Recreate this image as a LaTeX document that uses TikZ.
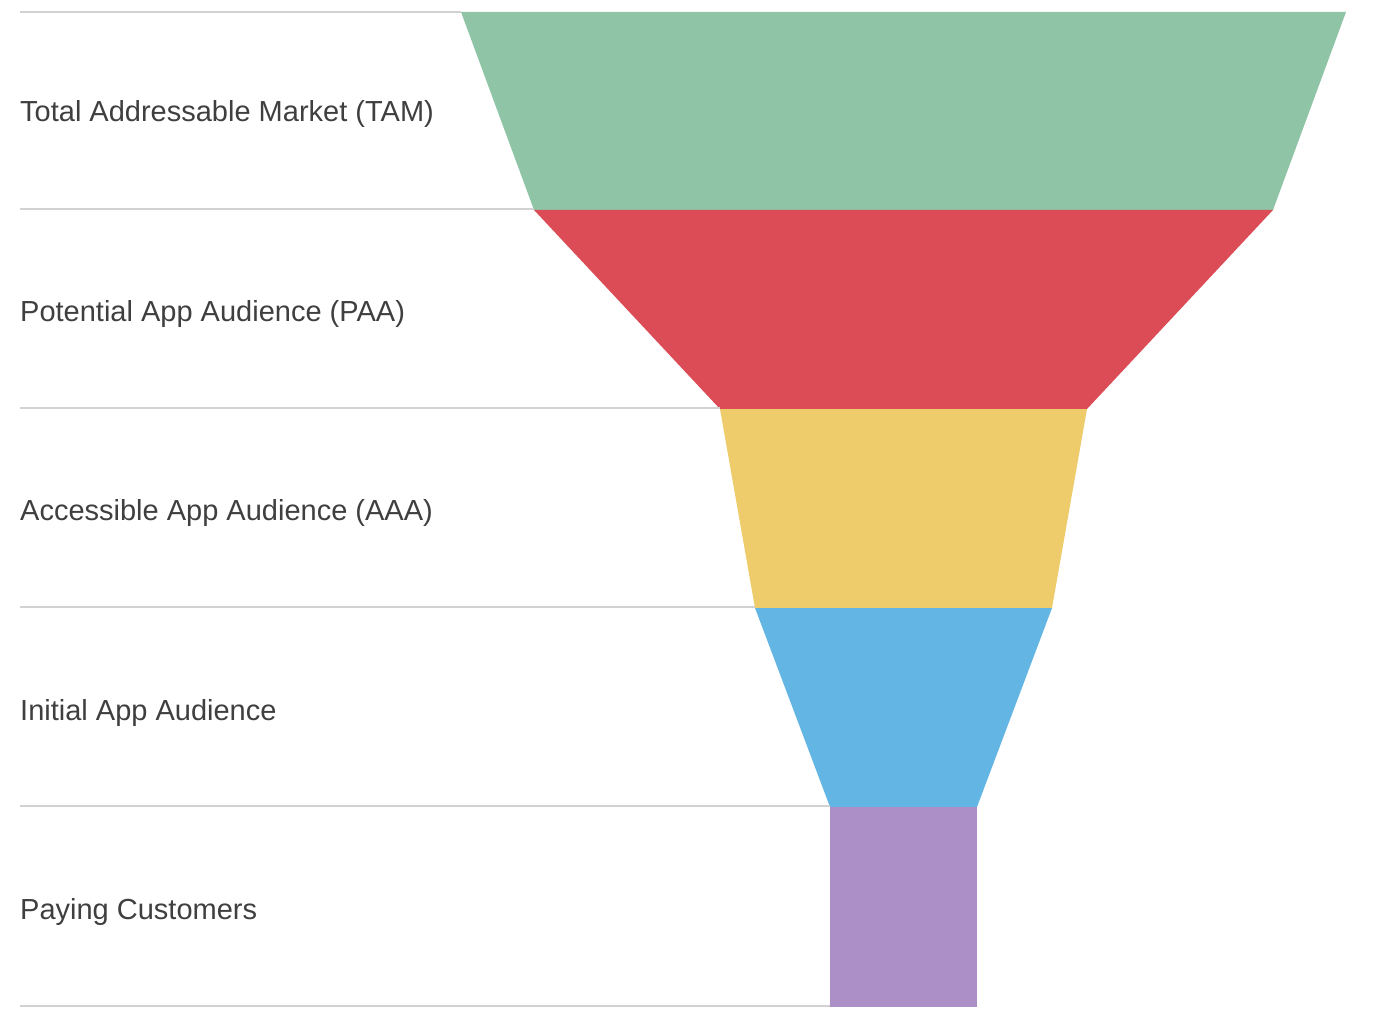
\documentclass[tikz,border=0pt]{standalone}
\usepackage{fontspec}
\setmainfont{Liberation Sans}
\definecolor{cgreen}{HTML}{8FC5A6}
\definecolor{cred}{HTML}{DB4C57}
\definecolor{cyellow}{HTML}{EECC6B}
\definecolor{cblue}{HTML}{63B6E4}
\definecolor{cpurple}{HTML}{AB8FC6}
\definecolor{cgrid}{HTML}{D2D2D2}
\definecolor{ctext}{HTML}{3F3F3F}
\begin{document}
\begin{tikzpicture}[x=1pt,y=-1pt,
  gridline/.style={draw=cgrid,line width=1.8pt},
  seglabel/.style={anchor=west,inner sep=0pt,text=ctext,draw=ctext,line width=0.35pt,font=\fontsize{29}{34}\selectfont},
  seg/.style={line width=0pt}]
\useasboundingbox (0,0) rectangle (1378,1024);
% funnel segments
\fill[cgreen]  (461,12) -- (1346,12) -- (1273,210) -- (534,210) -- cycle;
\fill[cred]    (534,210) -- (1273,210) -- (1087,409) -- (720,409) -- cycle;
\fill[cyellow] (720,409) -- (1087,409) -- (1052,608) -- (755,608) -- cycle;
\fill[cblue]   (755,608) -- (1052,608) -- (977,807) -- (830,807) -- cycle;
\fill[cpurple] (830,807) rectangle (977,1007);
% grid lines
\coordinate (l0) at (20,12);   \coordinate (r0) at (461,12);
\coordinate (l1) at (20,209);  \coordinate (r1) at (534,209);
\coordinate (l2) at (20,408);  \coordinate (r2) at (720,408);
\coordinate (l3) at (20,607);  \coordinate (r3) at (755,607);
\coordinate (l4) at (20,806);  \coordinate (r4) at (830,806);
\coordinate (l5) at (20,1006); \coordinate (r5) at (830,1006);
\foreach \i in {0,...,5} \draw[gridline] (l\i) -- (r\i);
% labels
\tikzset{seglabel/.style={anchor=west,inner sep=0pt,text=ctext,font=\fontsize{29}{34}\selectfont}}
\node[seglabel] (tam) at (20,114) {Total Addressable Market (TAM)};
\node[seglabel] (paa) at (20,314) {Potential App Audience (PAA)};
\node[seglabel] (aaa) at (20,513) {Accessible App Audience (AAA)};
\node[seglabel] (iaa) at (20,713) {Initial App Audience};
\node[seglabel] (pay) at (20,912) {Paying Customers};
\end{tikzpicture}
\end{document}
